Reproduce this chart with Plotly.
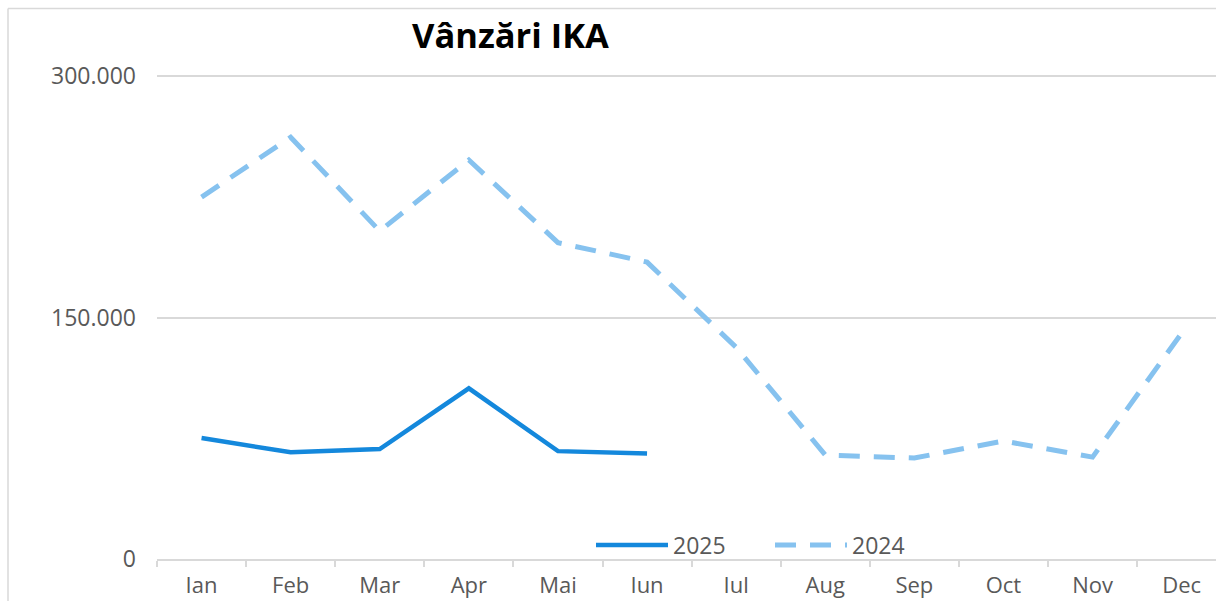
import plotly.graph_objects as go

# ---- data ----
months = ["Ian", "Feb", "Mar", "Apr", "Mai", "Iun", "Iul", "Aug", "Sep", "Oct", "Nov", "Dec"]
sales_2025 = [75100, 66300, 68300, 106000, 67000, 65600]
sales_2024 = [224800, 262000, 203700, 247800, 196500, 184400, 131500, 64600, 62700, 73300, 63300, 140300]
series_names = ["2025", "2024"]
y_tickvals = [0, 150000, 300000]
y_ticktext = ["0", "150.000", "300.000"]
title_text = "Vânzări IKA"

W, H = 1216, 601
ML, MR, MT, MB = 157, 0, 0, 42
plot_w = W - ML - MR
plot_h = H - MT - MB
cat_px = 89.1
base_y = H - MB  # pixel row of the zero line

def px_x(sx):
    return (sx - ML) / plot_w

def px_y(sy):
    return (base_y - sy) / plot_h

fig = go.Figure()
fig.add_trace(go.Scatter(
    x=months[:len(sales_2025)], y=sales_2025, name=series_names[0], mode="lines",
    line=dict(color="#1488DC", width=4.5),
))
fig.add_trace(go.Scatter(
    x=months, y=sales_2024, name=series_names[1], mode="lines",
    line=dict(color="#86C2EF", width=5, dash="21px,14px"),
))

tick_font = dict(family="Open Sans", size=23, color="#595959")
xtick_font = dict(family="Open Sans", size=22, color="#595959")

fig.update_xaxes(
    type="category", categoryorder="array", categoryarray=months,
    range=[-0.5, -0.5 + plot_w / cat_px], automargin=False,
    showline=True, linecolor="#D9D9D9", linewidth=1.5,
    ticks="outside", tickson="boundaries", ticklen=6, tickcolor="#D9D9D9", tickwidth=1.5,
    showgrid=False, tickfont=xtick_font, ticklabelstandoff=6,
)
fig.update_yaxes(
    range=[0, 300000 * plot_h / 483.0], automargin=False,
    tickvals=y_tickvals, ticktext=y_ticktext,
    showgrid=True, gridcolor="#D9D9D9", gridwidth=1.5,
    zeroline=False, showline=False, ticks="",
    tickfont=tick_font, ticklabelstandoff=20,
)

# chart-area border (only left and top edges are visible in the crop)
border = dict(color="#D9D9D9", width=1.5)
fig.add_shape(type="line", xref="paper", yref="paper",
              x0=px_x(8), x1=px_x(8), y0=-0.3, y1=px_y(8.5), line=border, layer="below")
fig.add_shape(type="line", xref="paper", yref="paper",
              x0=px_x(8), x1=1.05, y0=px_y(8.5), y1=px_y(8.5), line=border, layer="below")

fig.add_annotation(
    text="<b>" + title_text + "</b>", xref="paper", yref="paper",
    x=px_x(510), y=px_y(35), xanchor="center", yanchor="middle",
    showarrow=False, font=dict(family="Open Sans", size=34.5, color="#000000"),
)

fig.update_layout(
    width=W, height=H,
    margin=dict(l=ML, r=MR, t=MT, b=MB, pad=0, autoexpand=False),
    paper_bgcolor="white", plot_bgcolor="white",
    showlegend=True,
    legend=dict(
        orientation="h", x=px_x(591), y=px_y(545), xanchor="left", yanchor="middle",
        font=tick_font, bgcolor="rgba(0,0,0,0)", itemwidth=72, entrywidth=92,
    ),
)

fig.write_html(
    "out.html",
    config={"displayModeBar": False},
    post_script="document.body.style.margin='0';document.body.style.overflow='hidden';",
)
